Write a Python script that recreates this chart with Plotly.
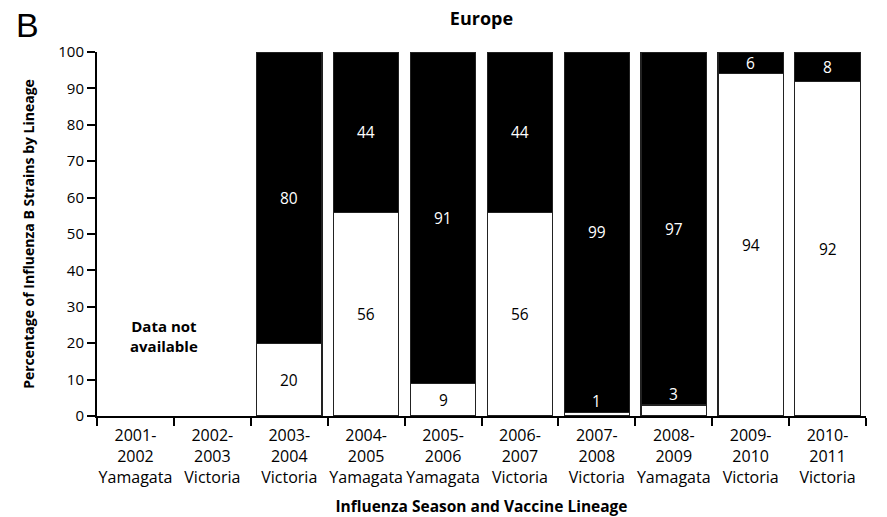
import plotly.graph_objects as go

seasons = ["2001-<br>2002<br>Yamagata", "2002-<br>2003<br>Victoria", "2003-<br>2004<br>Victoria",
           "2004-<br>2005<br>Yamagata", "2005-<br>2006<br>Yamagata", "2006-<br>2007<br>Victoria",
           "2007-<br>2008<br>Victoria", "2008-<br>2009<br>Yamagata", "2009-<br>2010<br>Victoria",
           "2010-<br>2011<br>Victoria"]
matched = [None, None, 20, 56, 9, 56, 1, 3, 94, 92]      # white (lower) segment
mismatched = [None, None, 80, 44, 91, 44, 99, 97, 6, 8]  # black (upper) segment
yticks = list(range(0, 101, 10))

FONT = "Open Sans"

fig = go.Figure()
fig.add_bar(x=seasons, y=matched, marker=dict(color="white", line=dict(color="#222", width=1.2)),
            showlegend=False)
fig.add_bar(x=seasons, y=mismatched, marker=dict(color="black", line=dict(color="#222", width=1.2)),
            showlegend=False)

ann = []
for s, w, b in zip(seasons, matched, mismatched):
    if w is None:
        continue
    if w >= 8:
        ann.append(dict(x=s, y=w / 2, text=str(w), showarrow=False,
                        font=dict(color="black", size=15.5, family=FONT)))
    else:
        ann.append(dict(x=s, y=w + 3, text=str(w), showarrow=False,
                        font=dict(color="white", size=15.5, family=FONT)))
    ann.append(dict(x=s, y=w + b / 2, text=str(b), showarrow=False,
                    font=dict(color="white", size=15.5, family=FONT)))

ann.append(dict(x=0.37, y=22, xref="x", yref="y", text="<b>Data not<br>available</b>", showarrow=False,
                font=dict(color="black", size=15, family=FONT), align="center"))
ann.append(dict(x=-0.108, y=1.074, xref="paper", yref="paper", text="B", showarrow=False,
                xanchor="left", yanchor="middle", font=dict(color="black", size=34, family="Liberation Sans")))

fig.update_layout(
    barmode="stack",
    bargap=0.15,
    width=887, height=517,
    margin=dict(l=97, r=21, t=52, b=101, autoexpand=False),
    plot_bgcolor="white", paper_bgcolor="white",
    title=dict(text="<b>Europe</b>", x=0.5, xref="paper", y=0.963, yanchor="middle",
               font=dict(size=18, family=FONT, color="black")),
    font=dict(family=FONT, color="black"),
    annotations=ann,
)
fig.update_xaxes(type="category", tickson="boundaries", ticks="outside", ticklen=8, tickwidth=2,
                 tickangle=0, automargin=False, ticklabelstandoff=4,
                 tickcolor="black", showline=True, linecolor="black", linewidth=2,
                 tickfont=dict(size=16, family=FONT),
                 title=dict(text="<b>Influenza Season and Vaccine Lineage</b>", font=dict(size=15.5, family=FONT),
                            standoff=18),
                 showgrid=False)
fig.update_yaxes(range=[0, 100], tickvals=yticks, ticks="outside", ticklen=8, tickwidth=2, tickcolor="black",
                 automargin=False,
                 showline=True, linecolor="black", linewidth=2, showgrid=False, zeroline=False,
                 tickfont=dict(size=15, family=FONT),
                 title=dict(text="<b>Percentage of Influenza B Strains by Lineage</b>",
                            font=dict(size=14, family=FONT), standoff=20))

fig.write_html("out.html")
